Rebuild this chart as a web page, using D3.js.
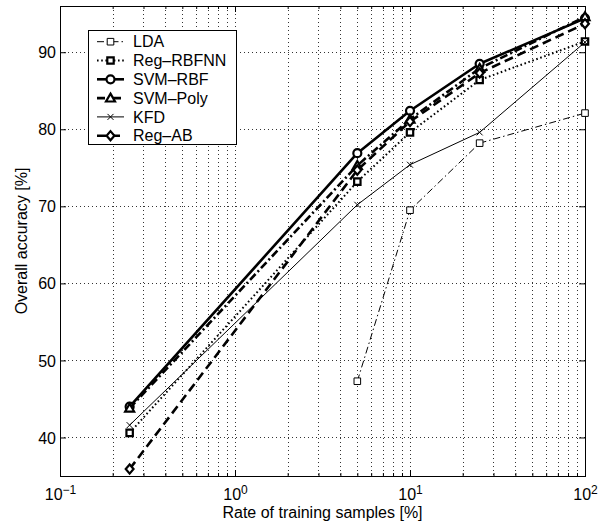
<!DOCTYPE html>
<html><head><meta charset="utf-8">
<script src="https://cdn.jsdelivr.net/npm/d3@7"></script>
<style>body{margin:0;background:#fff} text{font-family:"Liberation Sans",Arial,Helvetica,sans-serif;fill:#000}</style>
</head><body><svg id="c" width="602" height="529"></svg>
<script>
const seriesNames = ["LDA","Reg–RBFNN","SVM–RBF","SVM–Poly","KFD","Reg–AB"];
const trainRates = [0.25,5,10,25,100];
const ldaValues = [null,47.3,69.5,78.2,82.1];
const rbfnnValues = [40.6,73.2,79.6,86.4,91.4];
const svmRbfValues = [44.0,76.9,82.4,88.5,94.4];
const svmPolyValues = [43.8,75.3,81.3,87.9,94.6];
const kfdValues = [41.6,70.2,75.4,79.6,91.3];
const regAbValues = [35.9,74.7,81.0,87.3,93.7];
const xTickValues = [0.1,1,10,100];
const xTickExponents = ["−1","0","1","2"];
const yTickValues = [40,50,60,70,80,90];
const xLabel = "Rate of training samples [%]";
const yLabel = "Overall accuracy [%]";

const allValues = [ldaValues, rbfnnValues, svmRbfValues, svmPolyValues, kfdValues, regAbValues];
const styles = [
  {dash:"7,3,1.5,3", w:1, marker:"square", mw:1, ms:3.3},
  {dash:"1.6,2.6", w:2, marker:"square", mw:2.2, ms:3.2},
  {dash:null, w:2.6, marker:"circle", mw:2.2, ms:4},
  {dash:"8,3,2,3", w:2.6, marker:"triangle", mw:2.2, ms:4.5},
  {dash:null, w:1, marker:"x", mw:1, ms:3},
  {dash:"9,5", w:2.6, marker:"diamond", mw:2.2, ms:4.6}
];

const M = {l:60, r:585, t:6, b:476};
const FS = "16px";
const x = d3.scaleLog().domain([0.1,100]).range([M.l, M.r]);
const y = d3.scaleLinear().domain([35,96]).range([M.b, M.t]);
const svg = d3.select("#c");
svg.append("rect").attr("width",602).attr("height",529).attr("fill","#fff");

const minorTicks = [];
[0.1,1,10].forEach(d => { for (let k=2;k<=9;k++) minorTicks.push(d*k); });

const grid = svg.append("g").attr("stroke","#333").attr("stroke-width",1).attr("stroke-dasharray","1,3");
grid.selectAll("line.vx").data(xTickValues.concat(minorTicks).filter(v=>v>0.1&&v<100)).join("line")
  .attr("x1",d=>Math.round(x(d))+0.5).attr("x2",d=>Math.round(x(d))+0.5).attr("y1",M.t).attr("y2",M.b);
grid.selectAll("line.hy").data(yTickValues).join("line")
  .attr("y1",d=>Math.round(y(d))+0.5).attr("y2",d=>Math.round(y(d))+0.5).attr("x1",M.l).attr("x2",M.r);

const axB = svg.append("g").attr("transform",`translate(0,${M.b})`)
  .call(d3.axisBottom(x).tickValues(xTickValues).tickSize(-6).tickFormat((d,i)=>"10"));
const axBm = svg.append("g").attr("transform",`translate(0,${M.b})`)
  .call(d3.axisBottom(x).tickValues(minorTicks).tickSize(-3).tickFormat(""));
const axT = svg.append("g").attr("transform",`translate(0,${M.t})`)
  .call(d3.axisTop(x).tickValues(xTickValues).tickSize(-6).tickFormat(""));
const axTm = svg.append("g").attr("transform",`translate(0,${M.t})`)
  .call(d3.axisTop(x).tickValues(minorTicks).tickSize(-3).tickFormat(""));
const axL = svg.append("g").attr("transform",`translate(${M.l},0)`)
  .call(d3.axisLeft(y).tickValues(yTickValues).tickSize(-6).tickPadding(4));
const axR = svg.append("g").attr("transform",`translate(${M.r},0)`)
  .call(d3.axisRight(y).tickValues(yTickValues).tickSize(-6).tickFormat(""));
[axB,axBm,axT,axTm,axL,axR].forEach(a=>{
  a.select(".domain").remove();
  a.selectAll("line").attr("stroke","#000");
  a.selectAll("text").style("font-size",FS).attr("fill","#000");
});
axL.selectAll("text").attr("x",-4).attr("dy","0.35em");
axB.selectAll("text").each(function(d,i){
  const t = d3.select(this);
  t.text(null).attr("y",13).attr("dy","0.71em").attr("text-anchor","middle");
  t.append("tspan").text("10");
  t.append("tspan").attr("dy","-0.55em").style("font-size","12px").text(xTickExponents[i]);
});

svg.append("rect").attr("x",M.l+0.5).attr("y",M.t+0.5).attr("width",M.r-M.l).attr("height",M.b-M.t)
  .attr("fill","none").attr("stroke","#000").attr("stroke-width",1);

function markerPath(type, s){
  if (type==="square") return `M${-s},${-s}H${s}V${s}H${-s}Z`;
  if (type==="triangle") return `M0,${-s}L${s},${s*0.75}L${-s},${s*0.75}Z`;
  if (type==="diamond") return `M0,${-s}L${s*0.85},0L0,${s}L${-s*0.85},0Z`;
  if (type==="x") return `M${-s},${-s}L${s},${s}M${-s},${s}L${s},${-s}`;
  return null;
}
function drawMarker(g, st, cx, cy){
  if (st.marker==="circle"){
    g.append("circle").attr("cx",cx).attr("cy",cy).attr("r",st.ms)
      .attr("fill","#fff").attr("stroke","#000").attr("stroke-width",st.mw);
  } else {
    g.append("path").attr("d",markerPath(st.marker, st.ms)).attr("transform",`translate(${cx},${cy})`)
      .attr("fill",st.marker==="x"?"none":"#fff").attr("stroke","#000").attr("stroke-width",st.mw);
  }
}

const line = d3.line().defined(d=>d[1]!=null).x(d=>x(d[0])).y(d=>y(d[1]));
const plot = svg.append("g");
allValues.forEach((vals,i)=>{
  const st = styles[i];
  const pts = trainRates.map((r,j)=>[r, vals[j]]);
  const g = plot.append("g");
  g.append("path").datum(pts).attr("d",line).attr("fill","none").attr("stroke","#000")
    .attr("stroke-width",st.w).attr("stroke-dasharray",st.dash).attr("stroke-linejoin","round");
  pts.filter(p=>p[1]!=null).forEach(p=>drawMarker(g, st, x(p[0]), y(p[1])));
});

const lg = svg.append("g");
lg.append("rect").attr("x",88.5).attr("y",30.5).attr("width",148).attr("height",114)
  .attr("fill","#fff").attr("stroke","#000").attr("stroke-width",1);
seriesNames.forEach((n,i)=>{
  const st = styles[i];
  const cy = 41.7 + i*18.8;
  lg.append("line").attr("x1",97).attr("x2",124).attr("y1",cy).attr("y2",cy)
    .attr("stroke","#000").attr("stroke-width",st.w).attr("stroke-dasharray",st.dash);
  drawMarker(lg, st, 110.5, cy);
  lg.append("text").attr("x",133).attr("y",cy).attr("dy","0.36em").style("font-size",FS).text(n);
});

svg.append("text").attr("x",(M.l+M.r)/2).attr("y",518).attr("text-anchor","middle")
  .style("font-size",FS).text(xLabel);
svg.append("text").attr("transform",`translate(27,${(M.t+M.b)/2}) rotate(-90)`).attr("text-anchor","middle")
  .style("font-size",FS).text(yLabel);
</script></body></html>
